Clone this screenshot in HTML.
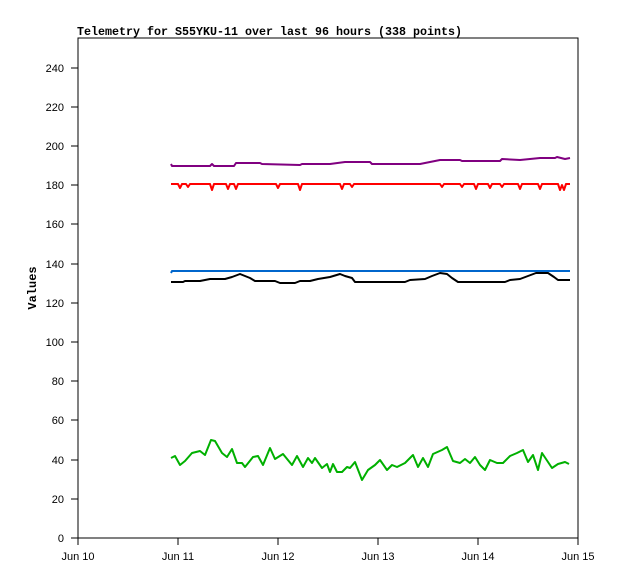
<!DOCTYPE html>
<html><head><meta charset="utf-8"><style>body{margin:0;background:#fff}svg{display:block}</style></head>
<body>
<svg width="618" height="579" xmlns="http://www.w3.org/2000/svg" font-family="Liberation Sans, sans-serif" font-size="11">
<rect width="618" height="579" fill="#fff"/>
<text x="77" y="35" font-family="Liberation Mono, monospace" font-weight="bold" font-size="12" textLength="385" lengthAdjust="spacingAndGlyphs">Telemetry for S55YKU-11 over last 96 hours (338 points)</text>
<text transform="translate(36,288) rotate(-90)" text-anchor="middle" font-family="Liberation Mono, monospace" font-weight="bold" font-size="12">Values</text>
<rect x="78" y="38" width="500" height="500" fill="none" stroke="#000" stroke-width="1"/>
<g stroke="#000">
<line x1="71" y1="538" x2="78" y2="538"/><line x1="71" y1="499" x2="78" y2="499"/><line x1="71" y1="460" x2="78" y2="460"/><line x1="71" y1="420" x2="78" y2="420"/><line x1="71" y1="381" x2="78" y2="381"/><line x1="71" y1="342" x2="78" y2="342"/><line x1="71" y1="303" x2="78" y2="303"/><line x1="71" y1="264" x2="78" y2="264"/><line x1="71" y1="224" x2="78" y2="224"/><line x1="71" y1="185" x2="78" y2="185"/><line x1="71" y1="146" x2="78" y2="146"/><line x1="71" y1="107" x2="78" y2="107"/><line x1="71" y1="68" x2="78" y2="68"/>
<line x1="78" y1="538" x2="78" y2="545"/><line x1="178" y1="538" x2="178" y2="545"/><line x1="278" y1="538" x2="278" y2="545"/><line x1="378" y1="538" x2="378" y2="545"/><line x1="478" y1="538" x2="478" y2="545"/><line x1="578" y1="538" x2="578" y2="545"/>
</g>
<g text-anchor="end">
<text x="64" y="542">0</text><text x="64" y="503">20</text><text x="64" y="464">40</text><text x="64" y="424">60</text><text x="64" y="385">80</text><text x="64" y="346">100</text><text x="64" y="307">120</text><text x="64" y="268">140</text><text x="64" y="228">160</text><text x="64" y="189">180</text><text x="64" y="150">200</text><text x="64" y="111">220</text><text x="64" y="72">240</text>
</g>
<g text-anchor="middle">
<text x="78" y="560">Jun 10</text><text x="178" y="560">Jun 11</text><text x="278" y="560">Jun 12</text><text x="378" y="560">Jun 13</text><text x="478" y="560">Jun 14</text><text x="578" y="560">Jun 15</text>
</g>
<g fill="none" stroke-width="2" stroke-linejoin="round">
<polyline stroke="#800080" points="171,164 172,166 210,166 212,164 214,166 234,166 236,163 260,163 262,164 300,165 302,164 330,164 345,162 370,162 372,164 420,164 440,160 460,160 462,161 500,161 502,159 520,160 540,158 555,158 557,157 565,159 570,158"/>
<polyline stroke="#ff0000" points="171,184 178,184 180,188 182,184 186,184 188,187 190,184 210,184 212,190 214,184 226,184 228,189 230,184 234,184 236,189 238,184 276,184 278,188 280,184 298,184 300,190 302,184 340,184 342,189 344,184 350,184 352,187 354,184 440,184 442,187 444,184 460,184 462,187 464,184 474,184 476,189 478,184 488,184 490,188 492,184 500,184 502,187 504,184 518,184 520,189 522,184 538,184 540,189 542,184 558,184 560,190 562,185 564,190 566,184 570,184"/>
<polyline stroke="#0066cc" points="171,273 172,271 570,271"/>
<polyline stroke="#000" points="171,282 183,282 185,281 200,281 210,279 225,279 232,277 240,274 245,276 250,278 255,281 275,281 280,283 295,283 300,281 310,281 318,279 330,277 340,274 345,276 352,278 355,282 405,282 410,280 425,279 432,276 440,273 447,274 452,278 458,282 505,282 510,280 520,279 528,276 536,273 548,273 554,277 558,280 570,280"/>
<polyline stroke="#00b000" points="171,458 175,456 180,465 185,461 192,453 200,451 205,455 211,440 215,441 222,453 227,457 232,449 237,463 242,463 245,467 253,457 258,456 263,465 270,448 275,459 283,454 292,465 297,456 303,467 308,458 312,463 315,458 322,468 327,464 330,472 333,464 337,472 342,472 347,467 350,468 355,462 362,480 368,470 375,465 380,460 387,470 392,465 397,467 405,463 413,455 418,467 423,458 428,467 433,454 442,450 447,447 453,461 460,463 465,459 470,463 475,457 480,465 485,470 490,460 497,463 503,463 510,456 517,453 523,450 528,462 533,455 538,470 542,453 552,468 558,464 565,462 569,464"/>
</g>
</svg>
</body></html>
